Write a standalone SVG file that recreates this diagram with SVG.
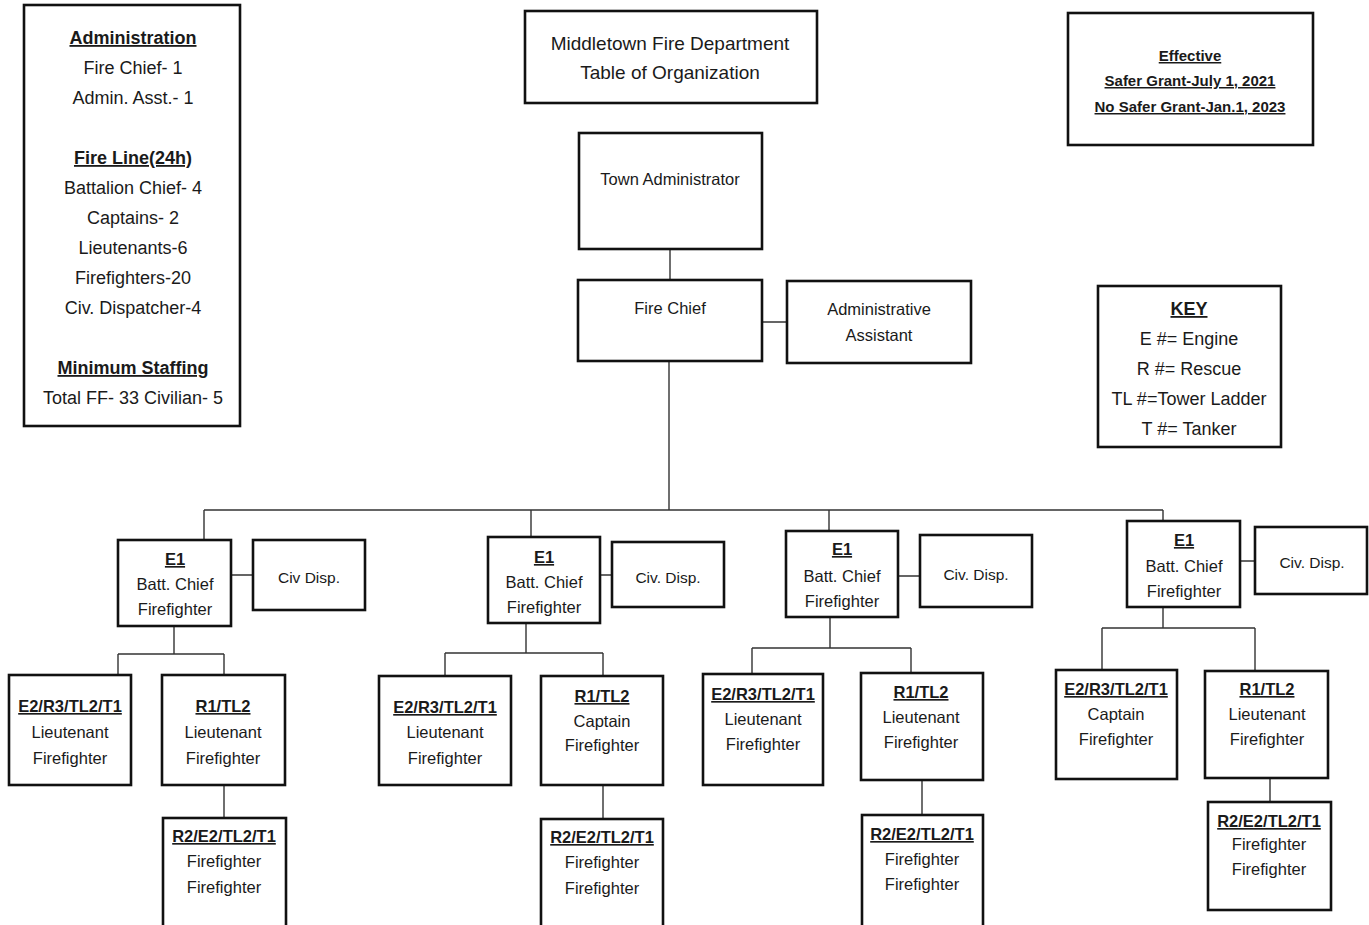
<svg xmlns="http://www.w3.org/2000/svg" width="1369" height="925" viewBox="0 0 1369 925">
<style>
.b{fill:#fff;stroke:#111;stroke-width:2.6}
.c{fill:none;stroke:#333;stroke-width:1.4}
text{font-family:"Liberation Sans",Arial,sans-serif;fill:#1a1a1a;text-anchor:middle}
.t18{font-size:18px}
.t19{font-size:19px}
.t17{font-size:17px}
.t16{font-size:16.5px}
.t15{font-size:15.5px}
.te{font-size:15px}
.u{font-weight:bold;text-decoration:underline}
</style>
<rect width="1369" height="925" fill="#fff"/>
<g id="connectors">
<path class="c" d="M670 249V280M762 322H787M669 361V510M204 510H1163M204 510V540M531 510V537M829 510V531M1163 510V521"/>
<path class="c" d="M231 575H253M600 575H612M898 576H920M1240 561H1255"/>
<path class="c" d="M174 626V654M118 654H224M118 654V675M224 654V675M224 785V818"/>
<path class="c" d="M526 623V653M445 653H603M445 653V676M603 653V676M603 785V819"/>
<path class="c" d="M830 617V648M752 648H911M752 648V674M911 648V673M922 780V815"/>
<path class="c" d="M1163 607V628M1102 628H1255M1102 628V670M1255 628V671M1270 778V802"/>
</g>
<g id="summary">
<rect class="b" x="24" y="5" width="216" height="421"/>
<text class="t18 u" x="133" y="44">Administration</text>
<text class="t18" x="133" y="74">Fire Chief- 1</text>
<text class="t18" x="133" y="104">Admin. Asst.- 1</text>
<text class="t18 u" x="133" y="164">Fire Line(24h)</text>
<text class="t18" x="133" y="194">Battalion Chief- 4</text>
<text class="t18" x="133" y="224">Captains- 2</text>
<text class="t18" x="133" y="254">Lieutenants-6</text>
<text class="t18" x="133" y="284">Firefighters-20</text>
<text class="t18" x="133" y="314">Civ. Dispatcher-4</text>
<text class="t18 u" x="133" y="374">Minimum Staffing</text>
<text class="t18" x="133" y="404">Total FF- 33 Civilian- 5</text>
</g>
<g id="title">
<rect class="b" x="525" y="11" width="292" height="92"/>
<text class="t19" x="670" y="50">Middletown Fire Department</text>
<text class="t19" x="670" y="79">Table of Organization</text>
</g>
<g id="effective">
<rect class="b" x="1068" y="13" width="245" height="132"/>
<text class="te u" x="1190" y="61">Effective</text>
<text class="te u" x="1190" y="86">Safer Grant-July 1, 2021</text>
<text class="te u" x="1190" y="112">No Safer Grant-Jan.1, 2023</text>
</g>
<g id="town-admin">
<rect class="b" x="579" y="133" width="183" height="116"/>
<text class="t16" x="670" y="185">Town Administrator</text>
</g>
<g id="fire-chief">
<rect class="b" x="578" y="280" width="184" height="81"/>
<text class="t16" x="670" y="314">Fire Chief</text>
</g>
<g id="admin-assistant">
<rect class="b" x="787" y="281" width="184" height="82"/>
<text class="t16" x="879" y="315">Administrative</text>
<text class="t16" x="879" y="341">Assistant</text>
</g>
<g id="key">
<rect class="b" x="1098" y="286" width="183" height="161"/>
<text class="t18 u" x="1189" y="315">KEY</text>
<text class="t18" x="1189" y="345">E #= Engine</text>
<text class="t18" x="1189" y="375">R #= Rescue</text>
<text class="t18" x="1189" y="405">TL #=Tower Ladder</text>
<text class="t18" x="1189" y="435">T #= Tanker</text>
</g>

<g id="bc1">
<rect class="b" x="118" y="540" width="113" height="86"/>
<text class="t16 u" x="175" y="565">E1</text>
<text class="t16" x="175" y="590">Batt. Chief</text>
<text class="t16" x="175" y="615">Firefighter</text>
</g>
<g id="civ1">
<rect class="b" x="253" y="540" width="112" height="70"/>
<text class="t15" x="309" y="583">Civ Disp.</text>
</g>
<g id="g1-e2">
<rect class="b" x="9" y="675" width="122" height="110"/>
<text class="t16 u" x="70" y="712">E2/R3/TL2/T1</text>
<text class="t16" x="70" y="738">Lieutenant</text>
<text class="t16" x="70" y="764">Firefighter</text>
</g>
<g id="g1-r1">
<rect class="b" x="162" y="675" width="123" height="110"/>
<text class="t16 u" x="223" y="712">R1/TL2</text>
<text class="t16" x="223" y="738">Lieutenant</text>
<text class="t16" x="223" y="764">Firefighter</text>
</g>
<g id="g1-r2">
<rect class="b" x="163" y="818" width="123" height="115"/>
<text class="t16 u" x="224" y="842">R2/E2/TL2/T1</text>
<text class="t16" x="224" y="867">Firefighter</text>
<text class="t16" x="224" y="893">Firefighter</text>
</g>

<g id="bc2">
<rect class="b" x="488" y="537" width="112" height="86"/>
<text class="t16 u" x="544" y="563">E1</text>
<text class="t16" x="544" y="588">Batt. Chief</text>
<text class="t16" x="544" y="613">Firefighter</text>
</g>
<g id="civ2">
<rect class="b" x="612" y="542" width="112" height="65"/>
<text class="t15" x="668" y="583">Civ. Disp.</text>
</g>
<g id="g2-e2">
<rect class="b" x="379" y="676" width="132" height="109"/>
<text class="t16 u" x="445" y="713">E2/R3/TL2/T1</text>
<text class="t16" x="445" y="738">Lieutenant</text>
<text class="t16" x="445" y="764">Firefighter</text>
</g>
<g id="g2-r1">
<rect class="b" x="541" y="676" width="122" height="109"/>
<text class="t16 u" x="602" y="702">R1/TL2</text>
<text class="t16" x="602" y="727">Captain</text>
<text class="t16" x="602" y="751">Firefighter</text>
</g>
<g id="g2-r2">
<rect class="b" x="541" y="819" width="122" height="114"/>
<text class="t16 u" x="602" y="843">R2/E2/TL2/T1</text>
<text class="t16" x="602" y="868">Firefighter</text>
<text class="t16" x="602" y="894">Firefighter</text>
</g>

<g id="bc3">
<rect class="b" x="786" y="531" width="112" height="86"/>
<text class="t16 u" x="842" y="555">E1</text>
<text class="t16" x="842" y="582">Batt. Chief</text>
<text class="t16" x="842" y="607">Firefighter</text>
</g>
<g id="civ3">
<rect class="b" x="920" y="535" width="112" height="72"/>
<text class="t15" x="976" y="580">Civ. Disp.</text>
</g>
<g id="g3-e2">
<rect class="b" x="703" y="674" width="120" height="111"/>
<text class="t16 u" x="763" y="700">E2/R3/TL2/T1</text>
<text class="t16" x="763" y="725">Lieutenant</text>
<text class="t16" x="763" y="750">Firefighter</text>
</g>
<g id="g3-r1">
<rect class="b" x="861" y="673" width="122" height="107"/>
<text class="t16 u" x="921" y="698">R1/TL2</text>
<text class="t16" x="921" y="723">Lieutenant</text>
<text class="t16" x="921" y="748">Firefighter</text>
</g>
<g id="g3-r2">
<rect class="b" x="862" y="815" width="121" height="118"/>
<text class="t16 u" x="922" y="840">R2/E2/TL2/T1</text>
<text class="t16" x="922" y="865">Firefighter</text>
<text class="t16" x="922" y="890">Firefighter</text>
</g>

<g id="bc4">
<rect class="b" x="1127" y="521" width="113" height="86"/>
<text class="t16 u" x="1184" y="546">E1</text>
<text class="t16" x="1184" y="572">Batt. Chief</text>
<text class="t16" x="1184" y="597">Firefighter</text>
</g>
<g id="civ4">
<rect class="b" x="1255" y="527" width="112" height="67"/>
<text class="t15" x="1312" y="568">Civ. Disp.</text>
</g>
<g id="g4-e2">
<rect class="b" x="1056" y="670" width="121" height="109"/>
<text class="t16 u" x="1116" y="695">E2/R3/TL2/T1</text>
<text class="t16" x="1116" y="720">Captain</text>
<text class="t16" x="1116" y="745">Firefighter</text>
</g>
<g id="g4-r1">
<rect class="b" x="1205" y="671" width="123" height="107"/>
<text class="t16 u" x="1267" y="695">R1/TL2</text>
<text class="t16" x="1267" y="720">Lieutenant</text>
<text class="t16" x="1267" y="745">Firefighter</text>
</g>
<g id="g4-r2">
<rect class="b" x="1208" y="802" width="123" height="108"/>
<text class="t16 u" x="1269" y="827">R2/E2/TL2/T1</text>
<text class="t16" x="1269" y="850">Firefighter</text>
<text class="t16" x="1269" y="875">Firefighter</text>
</g>
</svg>
